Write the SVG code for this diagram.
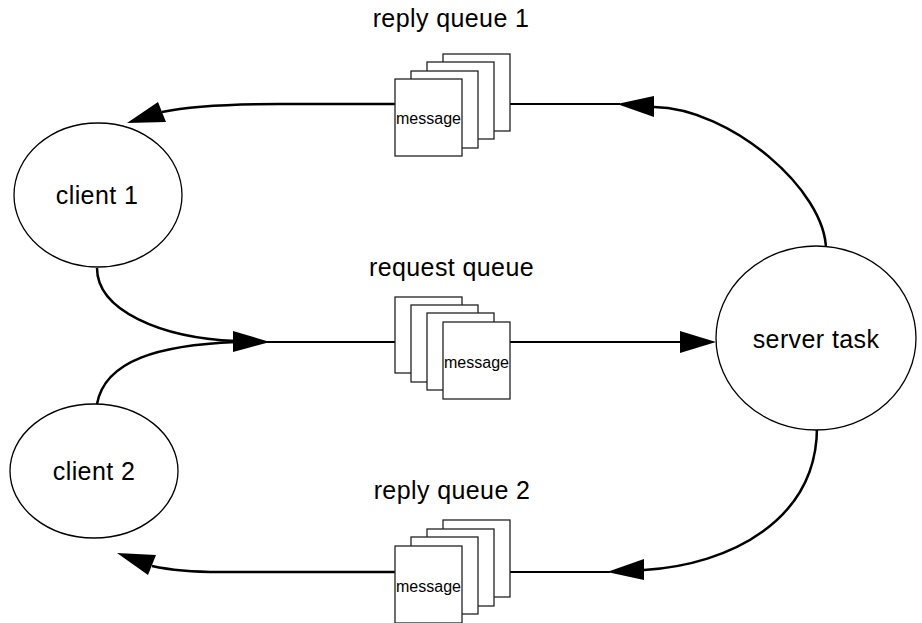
<svg xmlns="http://www.w3.org/2000/svg" width="922" height="623" viewBox="0 0 922 623">
<style>
  .node { fill: #fff; stroke: #000; stroke-width: 1.3; }
  .box { fill: #fff; stroke: #222; stroke-width: 1.3; }
  .lbl { font-family: "Liberation Sans", Arial, sans-serif; font-size: 25px; letter-spacing: 0.4px; fill: #000; text-anchor: middle; }
  .msg { font-family: "Liberation Sans", Arial, sans-serif; font-size: 16px; fill: #000; text-anchor: middle; }
  .wire { fill: none; stroke: #000; stroke-width: 2.5; }
  .straight { fill: none; stroke: #000; stroke-width: 2; }
  .head { fill: #000; stroke: none; }
</style>
<rect width="922" height="623" fill="#fff"/>

<g id="connectors">
  <!-- reply queue 1 -->
  <path class="straight" d="M510,104 L620,104"/>
  <path class="wire" d="M826,250 C826,190 730,108 654,107"/>
  <polygon class="head" points="617,104 654,96 654,117"/>
  <path class="wire" d="M395,104 L280,104 C230,104 190,106 162,112"/>
  <polygon class="head" points="127,123 158,102 166,122"/>
  <!-- request queue -->
  <path class="wire" d="M97,268 C97,310 160,338 236,341"/>
  <path class="wire" d="M97,404 C105,360 160,345 236,342"/>
  <polygon class="head" points="270,342 233,331 233,352"/>
  <path class="straight" d="M266,342 L395,342"/>
  <path class="straight" d="M510,342 L684,342"/>
  <polygon class="head" points="716,342 680,331 680,353"/>
  <!-- reply queue 2 -->
  <path class="wire" d="M817,427 C817,520 730,565 644,570"/>
  <polygon class="head" points="607,572 644,559 644,580"/>
  <path class="straight" d="M510,572 L610,572"/>
  <path class="wire" d="M395,572 L220,572 C190,572 170,570 152,566"/>
  <polygon class="head" points="117,553 156,555 148,575"/>
</g>

<g id="client1">
  <ellipse class="node" cx="98" cy="195" rx="84" ry="72"/>
  <text class="lbl" x="97" y="204">client 1</text>
</g>

<g id="client2">
  <ellipse class="node" cx="94" cy="471" rx="84" ry="67"/>
  <text class="lbl" x="94" y="480">client 2</text>
</g>

<g id="server">
  <ellipse class="node" cx="816" cy="338" rx="100" ry="92"/>
  <text class="lbl" x="816" y="348">server task</text>
</g>

<g id="reply-queue-1">
  <text class="lbl" x="451" y="27">reply queue 1</text>
  <rect class="box" x="443" y="54" width="67" height="77"/>
  <rect class="box" x="427" y="62" width="67" height="77"/>
  <rect class="box" x="411" y="71" width="67" height="77"/>
  <rect class="box" x="395" y="79" width="67" height="77"/>
  <text class="msg" x="428.5" y="124">message</text>
</g>

<g id="request-queue">
  <text class="lbl" x="451.5" y="276">request queue</text>
  <rect class="box" x="395" y="297" width="67" height="76"/>
  <rect class="box" x="411" y="305" width="67" height="77"/>
  <rect class="box" x="427" y="313" width="67" height="77"/>
  <rect class="box" x="443" y="322" width="67" height="77"/>
  <text class="msg" x="476.5" y="368">message</text>
</g>

<g id="reply-queue-2">
  <text class="lbl" x="452" y="499">reply queue 2</text>
  <rect class="box" x="443" y="520" width="67" height="77"/>
  <rect class="box" x="427" y="529" width="67" height="77"/>
  <rect class="box" x="411" y="537" width="67" height="77"/>
  <rect class="box" x="395" y="546" width="67" height="77"/>
  <text class="msg" x="428.5" y="592">message</text>
</g>
</svg>
